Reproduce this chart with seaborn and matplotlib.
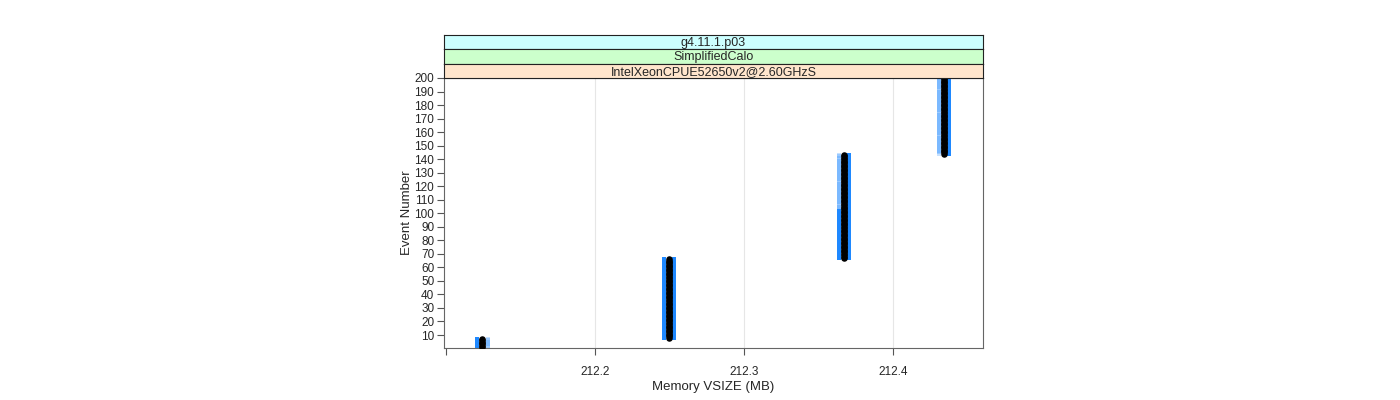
import numpy as np
import pandas as pd
import seaborn as sns
import matplotlib.pyplot as plt

# event ranges (first, last) and the memory value read for each range
seg_first = [1, 8, 67, 103, 144]
seg_last = [7, 66, 102, 143, 200]
seg_vsize = [212.1245, 212.2497, 212.367, 212.367, 212.434]
# blue side markers: opacity on the left / right of each range
seg_left_alpha = [1.0, 1.0, 1.0, 0.25, 0.25]
seg_right_alpha = [0.25, 1.0, 1.0, 1.0, 1.0]

strip_labels = ["g4.11.1.p03", "SimplifiedCalo", "IntelXeonCPUE52650v2@2.60GHzS"]
strip_colors = ["#ccffff", "#ccffcc", "#ffe5cc"]

x_ticks = [212.1, 212.2, 212.3, 212.4]
x_tick_labels = ["", "212.2", "212.3", "212.4"]
y_ticks = list(range(10, 201, 10))

rows = []
for a, b, v, la, ra in zip(seg_first, seg_last, seg_vsize, seg_left_alpha, seg_right_alpha):
    for ev in range(a, b + 1):
        rows.append({"event": ev, "vsize": v, "la": la, "ra": ra})
df = pd.DataFrame(rows)

sns.set_style("white")
plt.rcParams['font.family'] = ['Liberation Sans', 'DejaVu Sans']

fig = plt.figure(figsize=(14, 4), dpi=100)
ax = fig.add_axes([444 / 1400, 1 - 348 / 400, (983 - 444) / 1400, (348 - 78) / 400])

blue = "#1e88ff"
off = 0.0034
for alpha in sorted(df["la"].unique()):
    d = df[df["la"] == alpha]
    sns.scatterplot(x=d["vsize"] - off, y=d["event"], ax=ax, marker="s", s=9,
                    color=blue, alpha=alpha, linewidth=0, legend=False)
for alpha in sorted(df["ra"].unique()):
    d = df[df["ra"] == alpha]
    sns.scatterplot(x=d["vsize"] + off, y=d["event"], ax=ax, marker="s", s=9,
                    color=blue, alpha=alpha, linewidth=0, legend=False)
sns.scatterplot(data=df, x="vsize", y="event", ax=ax, marker="o", s=22,
                color="black", linewidth=0, legend=False, zorder=5)

ax.set_xlim(212.0987, 212.4604)
ax.set_ylim(0.4, 200)
ax.set_xticks(x_ticks)
ax.set_xticklabels(x_tick_labels, fontsize=8.5)
ax.set_yticks(y_ticks)
ax.set_yticklabels([str(t) for t in y_ticks], fontsize=8.5)
ax.tick_params(axis="both", direction="out", length=5, width=0.8, color="#555555",
               bottom=True, left=True, top=False, right=False, pad=2)
ax.tick_params(axis="x", pad=8)
for xv in x_ticks[1:]:
    ax.axvline(xv, color="#e6e6e6", lw=0.8, zorder=0)
for sp in ax.spines.values():
    sp.set_color("#666666")
    sp.set_linewidth(0.8)
ax.set_xlabel("Memory VSIZE (MB)", fontsize=9.5, labelpad=2)
ax.set_ylabel("Event Number", fontsize=9.5, labelpad=1)

# strips on top of the panel
strip_tops = [35, 49, 64]
strip_bottoms = [49, 64, 78]
for lab, col, t, b in zip(strip_labels, strip_colors, strip_tops, strip_bottoms):
    sax = fig.add_axes([444 / 1400, 1 - b / 400, (983 - 444) / 1400, (b - t) / 400])
    sax.set_facecolor(col)
    sax.set_xticks([])
    sax.set_yticks([])
    for sp in sax.spines.values():
        sp.set_color("#222222")
        sp.set_linewidth(0.8)
    sax.text(0.5, 0.45, lab, ha="center", va="center", fontsize=9, transform=sax.transAxes)

fig.savefig("out.png", dpi=100)
